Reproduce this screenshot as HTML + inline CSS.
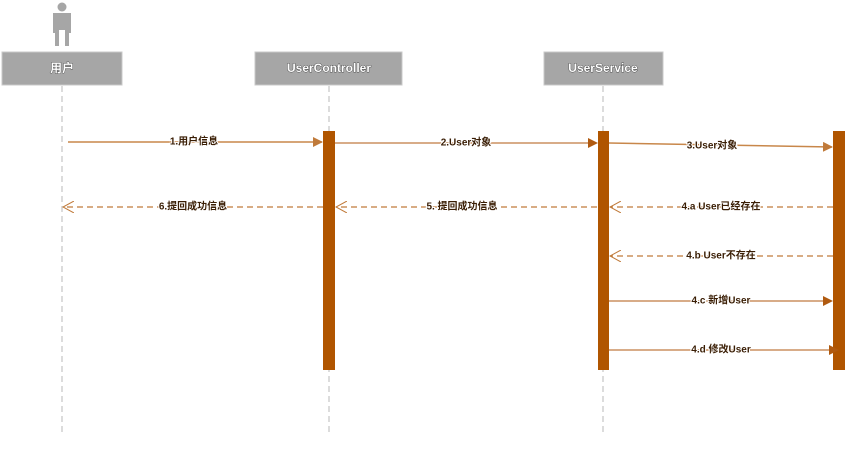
<!DOCTYPE html>
<html><head><meta charset="utf-8"><style>
body{margin:0;background:#fff;width:851px;height:460px;overflow:hidden}
svg text{font-family:"Liberation Sans","Noto Sans CJK SC",sans-serif;font-size:10px;font-weight:bold;fill:#3a1e05;text-anchor:middle;dominant-baseline:middle;paint-order:stroke;stroke:#fff;stroke-width:2px}
</style></head><body>
<svg width="851" height="460" viewBox="0 0 851 460" xmlns="http://www.w3.org/2000/svg">
<defs>
<marker id="a" markerWidth="10" markerHeight="10" refX="9" refY="5" orient="auto" markerUnits="userSpaceOnUse"><path d="M0,0 L10,5 L0,10Z" fill="#b05a10"/></marker>
<marker id="al" markerWidth="10" markerHeight="10" refX="9" refY="5" orient="auto" markerUnits="userSpaceOnUse"><path d="M0,0 L10,5 L0,10Z" fill="#c07a3a"/></marker>
<marker id="o" markerWidth="12" markerHeight="12" refX="11" refY="6" orient="auto" markerUnits="userSpaceOnUse"><path d="M0,0 L11,6 L0,12" fill="none" stroke="#c07a3a" stroke-width="1"/></marker>
</defs>
<!-- actor -->
<circle cx="62" cy="7" r="4.5" fill="#a6a6a6"/>
<path d="M53,13 h18 v20 h-2 v13 h-4 v-16 h-6 v16 h-4 v-13 h-2z" fill="#a6a6a6"/>
<!-- lifelines -->
<g stroke="#b8b8b8" stroke-dasharray="6,4" stroke-width="1">
<line x1="62" y1="86" x2="62" y2="436"/><line x1="329" y1="86" x2="329" y2="436"/><line x1="603" y1="86" x2="603" y2="436"/>
</g>
<!-- boxes -->
<rect x="2" y="52" width="120" height="33" fill="#a6a6a6" stroke="#c8c8c8"/>
<rect x="255" y="52" width="147" height="33" fill="#a6a6a6" stroke="#c8c8c8"/>
<rect x="544" y="52" width="119" height="33" fill="#a6a6a6" stroke="#c8c8c8"/>
<g>
<text x="62" y="69" style="fill:#fff;stroke:#333;stroke-width:0.7px;font-size:12px">用户</text>
<text x="329" y="69" style="fill:#fff;stroke:#333;stroke-width:0.7px;font-size:12px">UserController</text>
<text x="603" y="69" style="fill:#fff;stroke:#333;stroke-width:0.7px;font-size:12px">UserService</text>
</g>
<!-- activations -->
<rect x="323" y="131" width="12" height="239" fill="#b05500"/>
<rect x="598" y="131" width="11" height="239" fill="#b05500"/>
<rect x="833" y="131" width="12" height="239" fill="#b05500"/>
<!-- messages -->
<line x1="68" y1="142" x2="322" y2="142" stroke="#c8874a" stroke-width="1.5" marker-end="url(#al)"/>
<line x1="335" y1="143" x2="597" y2="143" stroke="#b05a10" marker-end="url(#a)"/>
<line x1="609" y1="143" x2="832" y2="147" stroke="#c8874a" stroke-width="1.5" marker-end="url(#al)"/>
<g stroke="#c07a3a" stroke-dasharray="6,4" stroke-width="1.2">
<line x1="597" y1="207" x2="336" y2="207" marker-end="url(#o)"/>
<line x1="323" y1="207" x2="63" y2="207" marker-end="url(#o)"/>
<line x1="833" y1="207" x2="610" y2="207" marker-end="url(#o)"/>
<line x1="833" y1="256" x2="610" y2="256" marker-end="url(#o)"/>
</g>
<line x1="609" y1="301" x2="832" y2="301" stroke="#b05a10" marker-end="url(#a)"/>
<line x1="609" y1="350" x2="838" y2="350" stroke="#b05a10" marker-end="url(#a)"/>
<text x="194" y="142">1.用户信息</text>
<text x="466" y="143">2.User对象</text>
<text x="712" y="146">3.User对象</text>
<text x="193" y="207">6.提回成功信息</text>
<text x="462" y="207">5. 提回成功信息</text>
<text x="721" y="207">4.a User已经存在</text>
<text x="721" y="256">4.b User不存在</text>
<text x="721" y="301">4.c 新增User</text>
<text x="721" y="350">4.d 修改User</text>
</svg>
</body></html>
